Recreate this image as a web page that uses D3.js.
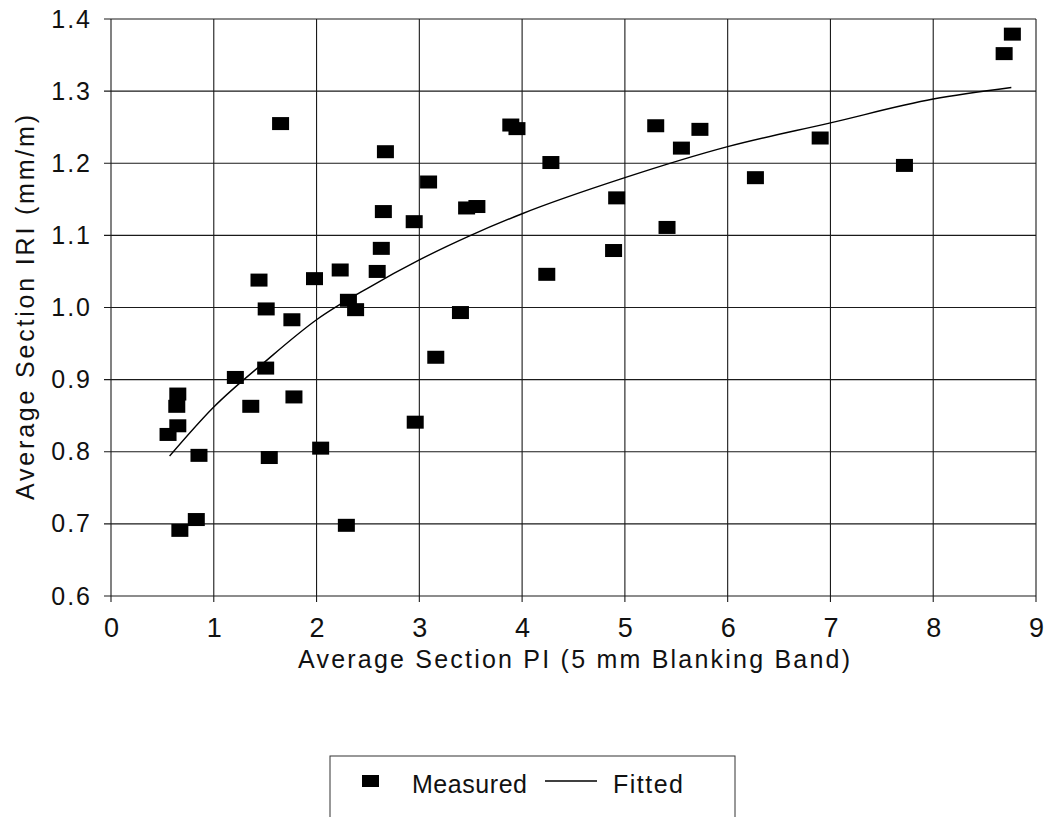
<!DOCTYPE html>
<html>
<head>
<meta charset="utf-8">
<script src="https://cdn.jsdelivr.net/npm/d3@7"></script>
<style>
  body { margin: 0; background: #fff; }
  text { font-family: "Liberation Sans", Arial, sans-serif; fill: #111; }
</style>
</head>
<body>
<svg id="chart" width="1051" height="817"></svg>
<script>
// measured sections
const piX = [0.555, 0.65, 0.64, 0.65, 0.856, 0.67, 0.83, 1.21, 1.36, 1.505,
  1.51, 1.54, 1.44, 1.76, 1.78, 1.65, 1.98, 2.04, 2.23, 2.31,
  2.38, 2.29, 2.59, 2.63, 2.65, 2.67, 3.09, 2.95, 3.46, 3.56,
  3.40, 3.89, 3.95, 4.28, 4.92, 4.89, 4.24, 5.30, 5.55, 5.73,
  5.41, 6.27, 3.16, 2.96, 8.77, 8.69, 6.90, 7.72];
const iri = [0.824, 0.880, 0.863, 0.836, 0.795, 0.691, 0.706, 0.903, 0.863, 0.916,
  0.998, 0.792, 1.038, 0.983, 0.876, 1.255, 1.040, 0.805, 1.052, 1.010,
  0.997, 0.698, 1.050, 1.082, 1.133, 1.216, 1.174, 1.119, 1.138, 1.140,
  0.993, 1.253, 1.248, 1.201, 1.152, 1.079, 1.046, 1.252, 1.221, 1.247,
  1.111, 1.180, 0.931, 0.841, 1.379, 1.352, 1.235, 1.197];

// fitted curve
const fitX = [0.57, 1, 1.5, 2, 2.5, 3, 3.5, 4, 5, 6, 7, 8, 8.76];
const fitY = [0.794, 0.862, 0.925, 0.983, 1.027, 1.066, 1.100, 1.130, 1.180, 1.223, 1.256, 1.289, 1.305];

const xTicks = [0, 1, 2, 3, 4, 5, 6, 7, 8, 9];
const yTicks = [0.6, 0.7, 0.8, 0.9, 1.0, 1.1, 1.2, 1.3, 1.4];

const svg = d3.select('#chart');

const x = d3.scaleLinear().domain([0, 9]).range([111, 1036]);
const y = d3.scaleLinear().domain([0.6, 1.4]).range([596, 19]);

const ink = '#1a1a1a';

//grid
const grid = svg.append('g');
grid.selectAll('line.v')
    .data(xTicks)
    .join('line')
    .attr('x1', d => x(d)).attr('x2', d => x(d))
    .attr('y1', y(1.4)).attr('y2', y(0.6) + 6)
    .attr('stroke', ink).attr('stroke-width', 1.1);
grid.selectAll('line.h')
    .data(yTicks)
    .join('line')
    .attr('x1', x(0) - 7).attr('x2', x(9))
    .attr('y1', d => y(d)).attr('y2', d => y(d))
    .attr('stroke', ink).attr('stroke-width', 1.1);

//axes labels
const xAxis = d3.axisBottom(x).tickValues(xTicks).tickSize(0).tickPadding(36).tickFormat(d3.format('d'));
svg.append('g')
    .attr('transform', `translate(0,${y(0.6)})`)
    .call(xAxis)
    .call(g => g.select('.domain').remove())
    .selectAll('text')
    .style('font-size', '27px')
    .style('font-family', '"Liberation Sans", Arial, sans-serif')
    .attr('fill', ink)
    .attr('dy', '0.2em');

const yAxis = d3.axisLeft(y).tickValues(yTicks).tickSize(0).tickPadding(19).tickFormat(d3.format('.1f'));
svg.append('g')
    .attr('transform', `translate(${x(0)},0)`)
    .call(yAxis)
    .call(g => g.select('.domain').remove())
    .selectAll('text')
    .style('font-size', '25px')
    .style('font-family', '"Liberation Sans", Arial, sans-serif')
    .style('letter-spacing', '2px')
    .attr('fill', ink);

//titles
svg.append('text')
    .attr('x', 298).attr('y', 668)
    .attr('textLength', 552).attr('lengthAdjust', 'spacing')
    .style('font-size', '25px')
    .text('Average Section PI (5 mm Blanking Band)');

svg.append('text')
    .attr('transform', 'translate(34,500) rotate(-90)')
    .attr('textLength', 385).attr('lengthAdjust', 'spacing')
    .style('font-size', '25px')
    .text('Average Section IRI (mm/m)');

//fitted line
svg.append('path')
    .datum(fitX.map((d, i) => [d, fitY[i]]))
    .attr('d', d3.line().x(d => x(d[0])).y(d => y(d[1])).curve(d3.curveMonotoneX))
    .attr('fill', 'none')
    .attr('stroke', '#000')
    .attr('stroke-width', 1.4);

//measured squares
const sw = 17, sh = 13;
svg.append('g')
    .selectAll('rect')
    .data(piX.map((d, i) => [d, iri[i]]))
    .join('rect')
    .attr('x', d => x(d[0]) - sw / 2)
    .attr('y', d => y(d[1]) - sh / 2)
    .attr('width', sw).attr('height', sh)
    .attr('fill', '#000');

//legend
const legend = svg.append('g');
legend.append('rect')
    .attr('x', 330).attr('y', 756)
    .attr('width', 405).attr('height', 90)
    .attr('fill', 'none').attr('stroke', '#333').attr('stroke-width', 1);
legend.append('rect')
    .attr('x', 362).attr('y', 775)
    .attr('width', sw).attr('height', sh - 1)
    .attr('fill', '#000');
legend.append('text')
    .attr('x', 412).attr('y', 793)
    .attr('textLength', 115).attr('lengthAdjust', 'spacing')
    .style('font-size', '25px')
    .text('Measured');
legend.append('line')
    .attr('x1', 545).attr('x2', 597)
    .attr('y1', 781).attr('y2', 781)
    .attr('stroke', '#000').attr('stroke-width', 1.4);
legend.append('text')
    .attr('x', 613).attr('y', 793)
    .attr('textLength', 70).attr('lengthAdjust', 'spacing')
    .style('font-size', '25px')
    .text('Fitted');
</script>
</body>
</html>
